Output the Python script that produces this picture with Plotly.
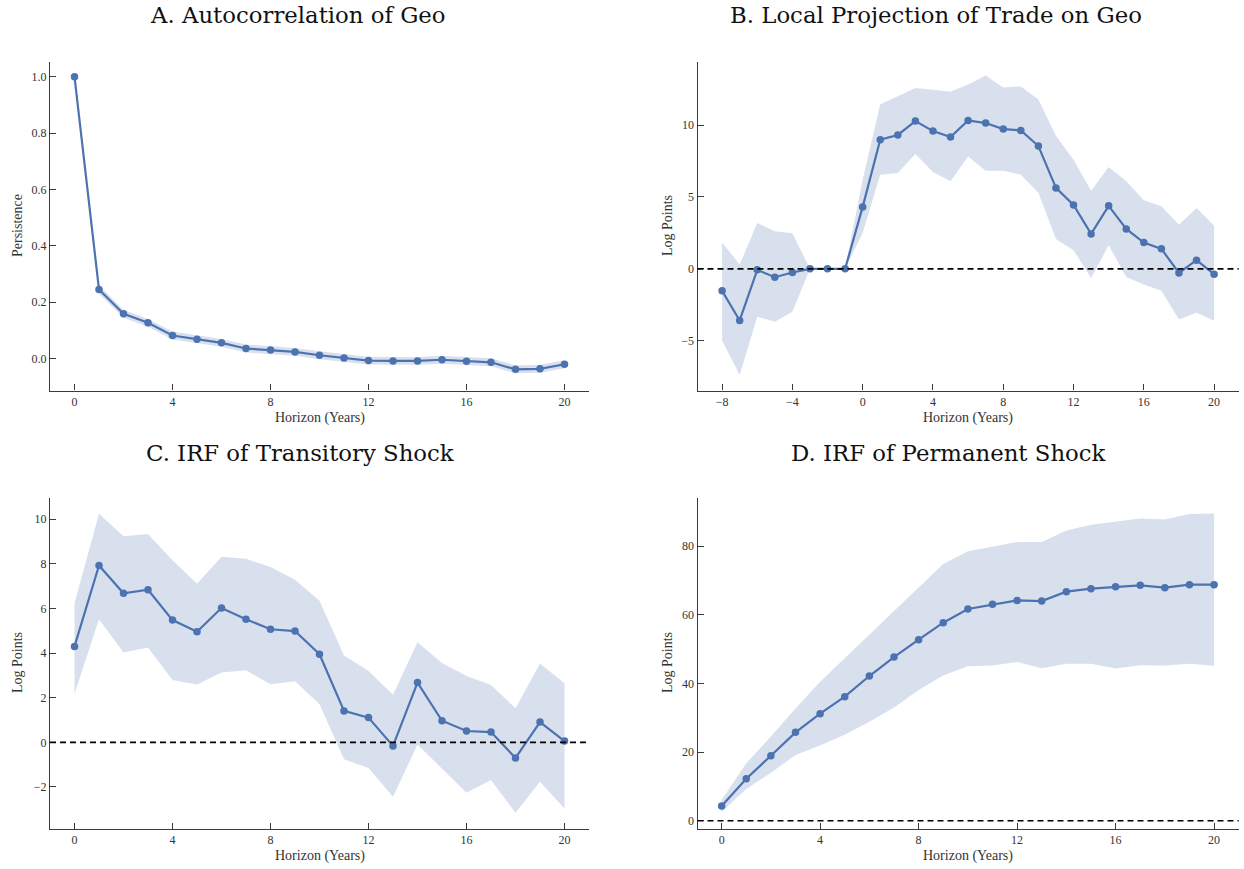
import plotly.graph_objects as go

# ---------------- data ----------------
h_a = list(range(0, 21))
acf = [1.0, 0.245, 0.159, 0.127, 0.082, 0.069, 0.056, 0.036, 0.031, 0.024, 0.012,
       0.002, -0.007, -0.008, -0.008, -0.004, -0.009, -0.013, -0.038, -0.036, -0.020]
acf_lo = [1.0, 0.230, 0.145, 0.113, 0.068, 0.055, 0.042, 0.022, 0.017, 0.010, -0.002,
          -0.012, -0.021, -0.022, -0.022, -0.018, -0.023, -0.027, -0.052, -0.050, -0.034]
acf_hi = [1.0, 0.260, 0.173, 0.141, 0.096, 0.083, 0.070, 0.050, 0.045, 0.038, 0.026,
          0.016, 0.007, 0.006, 0.006, 0.010, 0.005, 0.001, -0.024, -0.022, -0.006]

h_b = list(range(-8, 21))
lp = [-1.53, -3.59, -0.07, -0.58, -0.25, 0.0, 0.0, 0.0, 4.31, 8.98, 9.31, 10.28, 9.58,
      9.17, 10.32, 10.14, 9.72, 9.63, 8.54, 5.63, 4.44, 2.43, 4.38, 2.78, 1.83, 1.39,
      -0.28, 0.60, -0.37]
lp_hi = [1.83, 0.30, 3.19, 2.62, 2.48, 0.0, 0.0, 0.0, 6.2, 11.44, 12.0, 12.57, 12.45,
         12.31, 12.82, 13.45, 12.62, 12.69, 11.78, 9.26, 7.59, 5.44, 7.08, 6.09, 4.77,
         4.35, 3.06, 4.24, 2.99]
lp_lo = [-4.98, -7.38, -3.33, -3.68, -2.99, 0.0, 0.0, 0.0, 2.5, 6.55, 6.67, 7.99, 6.74,
         6.09, 7.82, 6.83, 6.83, 6.55, 5.30, 2.08, 1.30, -0.63, 1.64, -0.56, -1.09,
         -1.53, -3.52, -3.06, -3.61]

h_c = list(range(0, 21))
irf_t = [4.30, 7.93, 6.68, 6.84, 5.48, 4.96, 6.02, 5.52, 5.07, 4.99, 3.95, 1.41, 1.11,
         -0.16, 2.68, 0.97, 0.51, 0.46, -0.70, 0.91, 0.06]
irf_t_hi = [6.24, 10.25, 9.24, 9.34, 8.16, 7.11, 8.32, 8.23, 7.86, 7.29, 6.35, 3.89, 3.20,
            2.13, 4.49, 3.56, 2.98, 2.57, 1.53, 3.53, 2.65]
irf_t_lo = [2.17, 5.52, 4.03, 4.25, 2.80, 2.59, 3.13, 3.23, 2.60, 2.74, 1.71, -0.76, -1.15,
            -2.44, -0.10, -1.18, -2.26, -1.69, -3.16, -1.77, -2.96]

h_d = list(range(0, 21))
irf_p = [4.27, 12.23, 18.93, 25.73, 31.17, 36.12, 42.14, 47.67, 52.72, 57.67, 61.65,
         63.01, 64.17, 63.98, 66.70, 67.57, 68.16, 68.54, 67.86, 68.74, 68.74]
irf_p_hi = [6.0, 16.7, 24.5, 32.7, 40.5, 47.4, 54.2, 61.1, 67.9, 74.8, 78.5, 79.8, 81.2,
            81.2, 84.5, 86.2, 87.2, 88.0, 87.7, 89.3, 89.5]
irf_p_lo = [2.5, 9.2, 14.0, 19.1, 21.9, 25.0, 28.8, 33.0, 38.1, 42.3, 45.0, 45.2, 46.2,
            44.4, 45.7, 45.7, 44.3, 45.3, 45.2, 45.7, 45.1]

titles = ["A. Autocorrelation of Geo", "B. Local Projection of Trade on Geo",
          "C. IRF of Transitory Shock", "D. IRF of Permanent Shock"]
ylabels = ["Persistence", "Log Points", "Log Points", "Log Points"]
xlabel = "Horizon (Years)"

# ---------------- style ----------------
LINE = "#4C72B0"
BAND = "rgba(76,114,176,0.22)"
AX = "#3a3a3a"
TICKFONT = dict(family="Liberation Serif", size=12, color="#333333")
LABFONT = dict(family="Liberation Serif", size=14, color="#333333")
TITLEFONT = dict(family="DejaVu Serif", size=22.8, color="#111111")

W, H = 1244, 869
xdom = [[50 / W, 589 / W], [697.5 / W, 1238.7 / W]]
ydom = [[1 - 390.5 / H, 1 - 61.5 / H], [1 - 828.7 / H, 1 - 498.3 / H]]

fig = go.Figure()

panels = [
    (h_a, acf, acf_lo, acf_hi, False),
    (h_b, lp, lp_lo, lp_hi, True),
    (h_c, irf_t, irf_t_lo, irf_t_hi, True),
    (h_d, irf_p, irf_p_lo, irf_p_hi, True),
]

for i, (x, y, lo, hi, zero) in enumerate(panels):
    sfx = "" if i == 0 else str(i + 1)
    xa, ya = "x" + sfx, "y" + sfx
    fig.add_trace(go.Scatter(x=x, y=lo, mode="lines", line=dict(width=0, color=BAND),
                             xaxis=xa, yaxis=ya, showlegend=False, hoverinfo="skip"))
    fig.add_trace(go.Scatter(x=x, y=hi, mode="lines", line=dict(width=0, color=BAND),
                             fill="tonexty", fillcolor=BAND,
                             xaxis=xa, yaxis=ya, showlegend=False, hoverinfo="skip"))
    fig.add_trace(go.Scatter(x=x, y=y, mode="lines+markers",
                             line=dict(color=LINE, width=2.2),
                             marker=dict(color=LINE, size=7.5),
                             xaxis=xa, yaxis=ya, showlegend=False))
    if zero:
        fig.add_shape(type="line", xref=xa + " domain", yref=ya, x0=0, x1=1, y0=0, y1=0,
                      line=dict(color="black", width=1.6, dash="6px,4px"), layer="above")

xranges = [[-1.0, 21.0], [-9.4, 21.4], [-1.0, 21.0], [-0.98, 21.0]]
yranges = [[-0.113, 1.054], [-8.46, 14.42], [-3.87, 10.94], [-2.33, 93.9]]
xticks = [[0, 4, 8, 12, 16, 20], [-8, -4, 0, 4, 8, 12, 16, 20],
          [0, 4, 8, 12, 16, 20], [0, 4, 8, 12, 16, 20]]
yticks = [[0.0, 0.2, 0.4, 0.6, 0.8, 1.0], [-5, 0, 5, 10], [-2, 0, 2, 4, 6, 8, 10],
          [0, 20, 40, 60, 80]]


def fmt(v, dec):
    s = f"{abs(v):.{dec}f}"
    return ("\u2212" + s) if v < 0 else s


layout = {}
for i in range(4):
    sfx = "" if i == 0 else str(i + 1)
    col, row = i % 2, i // 2
    common = dict(showline=True, linecolor=AX, linewidth=1.3, ticks="inside",
                  ticklen=6, tickwidth=1.1, tickcolor=AX, showgrid=False,
                  zeroline=False, tickfont=TICKFONT, mirror=False)
    layout["xaxis" + sfx] = dict(domain=xdom[col], range=xranges[i], anchor="y" + sfx,
                                 tickvals=xticks[i],
                                 ticktext=[fmt(v, 0) for v in xticks[i]], **common)
    dec = 1 if i == 0 else 0
    layout["yaxis" + sfx] = dict(domain=ydom[row], range=yranges[i], anchor="x" + sfx,
                                 tickvals=yticks[i],
                                 ticktext=[fmt(v, dec) for v in yticks[i]], **common)

fig.update_layout(**layout)

ann = []
title_pos = [(298, 15), (936, 15), (300, 453), (948, 453)]
for t, (cx, cy) in zip(titles, title_pos):
    ann.append(dict(text=t, x=cx / W, y=1 - cy / H, xref="paper", yref="paper",
                    showarrow=False, font=TITLEFONT, xanchor="center", yanchor="middle"))
xlab_pos = [(319.5, 418), (968, 418), (319.5, 856), (968, 856)]
for (cx, cy) in xlab_pos:
    ann.append(dict(text=xlabel, x=cx / W, y=1 - cy / H, xref="paper", yref="paper",
                    showarrow=False, font=LABFONT, xanchor="center", yanchor="middle"))
ylab_pos = [(17, 226), (667, 226), (17, 663), (667, 663)]
for lab, (cx, cy) in zip(ylabels, ylab_pos):
    ann.append(dict(text=lab, x=cx / W, y=1 - cy / H, xref="paper", yref="paper",
                    showarrow=False, font=LABFONT, textangle=-90,
                    xanchor="center", yanchor="middle"))

fig.update_layout(width=W, height=H, margin=dict(l=0, r=0, t=0, b=0),
                  paper_bgcolor="white", plot_bgcolor="white", annotations=ann)

fig.write_html("out.html")
